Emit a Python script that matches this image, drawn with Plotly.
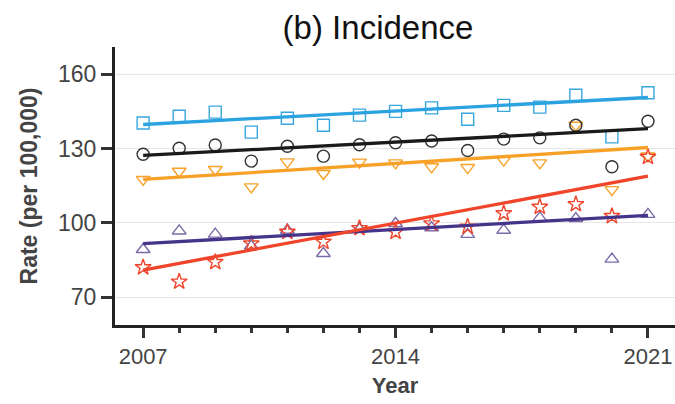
import plotly.graph_objects as go

years = list(range(2007, 2022))

blue_sq = [140.3, 143.0, 144.7, 136.6, 142.2, 139.4, 143.5, 145.0, 146.4, 141.8, 147.4, 146.7, 151.5, 134.7, 152.5]
black_ci = [127.7, 130.1, 131.4, 124.9, 130.9, 126.9, 131.5, 132.3, 133.0, 129.2, 133.8, 134.3, 139.4, 122.6, 141.0]
orange_tri = [117.5, 120.8, 121.5, 114.5, 124.6, 119.9, 124.5, 124.2, 122.6, 122.3, 125.3, 124.2, 139.4, 113.4, 127.0]
purple_tri = [89.2, 96.7, 95.4, 90.6, 97.0, 87.6, 97.5, 99.7, 98.0, 95.3, 97.0, 102.0, 101.7, 85.3, 103.4]
red_star = [82.0, 76.2, 84.1, 91.6, 96.3, 92.3, 97.8, 96.3, 99.7, 98.4, 103.8, 106.4, 107.5, 102.7, 126.6]

trend_x = [2007, 2021]
blue_trend = [139.7, 150.6]
black_trend = [127.2, 138.0]
orange_trend = [117.5, 130.4]
purple_trend = [91.6, 103.0]
red_trend = [80.9, 118.8]

series = [
    (orange_tri, orange_trend, "#F7A128", "#F7A128", "triangle-down-open"),
    (purple_tri, purple_trend, "#7B6BA8", "#46348A", "triangle-up-open"),
    (red_star, red_trend, "#F0452B", "#F0452B", "star-open"),
    (black_ci, black_trend, "#333333", "#1A1A1A", "circle-open"),
    (blue_sq, blue_trend, "#39A6DD", "#2BA3E0", "square-open"),
]

fig = go.Figure()
for pts, tr, mcol, lcol, sym in series:
    fig.add_trace(go.Scatter(x=years, y=pts, mode="markers",
                             marker=dict(symbol=sym, size=12, color=mcol,
                                         line=dict(width=1.4, color=mcol)),
                             showlegend=False))
for pts, tr, mcol, lcol, sym in series:
    fig.add_trace(go.Scatter(x=trend_x, y=tr, mode="lines",
                             line=dict(color=lcol, width=3.3),
                             showlegend=False))

fig.update_layout(
    width=675, height=404,
    margin=dict(l=115, r=0, t=47, b=79),
    plot_bgcolor="white", paper_bgcolor="white",
    font=dict(family="Liberation Sans, Arial, sans-serif", color="#444444"),
    title=dict(text="(b) Incidence", x=378/675, xref="container", xanchor="center",
               y=1 - 27/404, yref="container", yanchor="middle",
               font=dict(size=33, color="#111111")),
)
fig.update_xaxes(
    range=[2006.22, 2021.75], tickmode="array", tickvals=[2007, 2014, 2021],
    ticktext=["2007", "2014", "2021"],
    ticks="outside", ticklen=10, tickwidth=2.5, tickcolor="#333333",
    minor=dict(tickmode="linear", tick0=2007, dtick=1, ticks="outside",
               ticklen=5, tickwidth=2.5, tickcolor="#333333", showgrid=False),
    showline=True, linewidth=3, linecolor="#222222", showgrid=False, zeroline=False,
    tickfont=dict(size=22, color="#444444"),
    title=dict(text="<b>Year</b>", font=dict(size=22, color="#444444"), standoff=10),
)
fig.update_yaxes(
    range=[58.7, 171], tickmode="array", tickvals=[70, 100, 130, 160],
    ticks="outside", ticklen=11, tickwidth=2.5, tickcolor="#333333",
    showline=True, linewidth=3, linecolor="#222222",
    showgrid=True, gridcolor="#E6E6E6", gridwidth=1.2, zeroline=False,
    tickfont=dict(size=23, color="#444444"),
    title=dict(text="<b>Rate (per 100,000)</b>", font=dict(size=23, color="#444444"), standoff=14),
)

fig.write_html("out.html")
